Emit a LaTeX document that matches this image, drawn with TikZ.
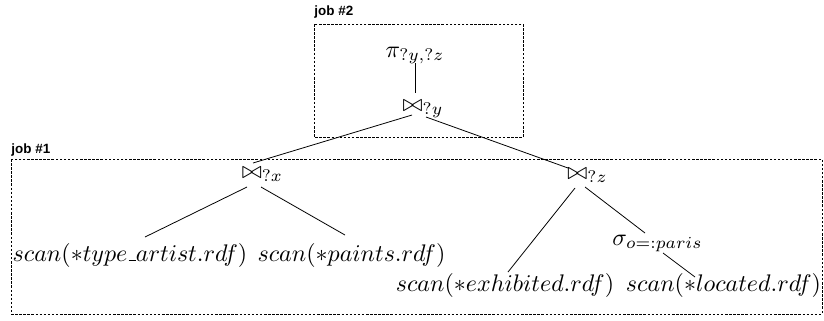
\documentclass[tikz,border=0pt]{standalone}
\usepackage{fontspec}
\newfontfamily\labfont{Liberation Sans}
\usetikzlibrary{calc}
\newcommand{\lowbar}{\mbox{\kern.06em\vbox{\hrule width.3em}}}
\begin{document}
\begin{tikzpicture}[x=0.41667pt,y=-0.41667pt,
  op/.style={inner sep=0pt,anchor=base},
  jobbox/.style={draw,line width=0.3pt,dash pattern=on 1.05pt off 0.65pt},
  joblabel/.style={inner sep=0pt,anchor=base west,font=\labfont\bfseries\fontsize{5.6}{7}\selectfont},
  edge/.style={line width=0.33pt}]
\useasboundingbox (0,0) rectangle (824,320);
% boxes
\draw[jobbox] (314,24) rectangle (523,137);
\draw[jobbox] (11,159) rectangle (822,314);
\node[joblabel] (l2) at (314,15) {job \#2};
\node[joblabel] (l1) at (11,153) {job \#1};
% nodes
\node[op] (pi) at (415,57) {$\pi_{?y,?z}$};
\node[op] (jy) at (423,111) {$\bowtie_{?y}$};
\node[op] (jx) at (262.5,178) {$\bowtie_{?x}$};
\node[op] (jz) at (587.5,179) {$\bowtie_{?z}$};
\node[op] (sg) at (657.5,245) {$\sigma_{o=:paris}$};
\node[op] (s1) at (130,261) {$scan(*type\lowbar artist.rdf)$};
\node[op] (s2) at (351.5,261) {$scan(*paints.rdf)$};
\node[op] (s3) at (505,291) {$scan(*exhibited.rdf)$};
\node[op] (s4) at (723.5,291) {$scan(*located.rdf)$};
% edges
\draw[edge] ($(pi.base)+(0,6)$) -- ($(jy.base)+(-8,-18)$);
\draw[edge] ($(jy.base)+(-11,4)$) -- ($(jx.base)+(-9.5,-15)$);
\draw[edge] ($(jy.base)+(3,6)$) -- ($(jz.base)+(-19.5,-11)$);
\draw[edge] ($(jx.base)+(-15.5,9)$) -- ($(s1.base)+(15,-24)$);
\draw[edge] ($(jx.base)+(-1.5,9)$) -- ($(s2.base)+(-6.5,-26)$);
\draw[edge] ($(jz.base)+(-12.5,9)$) -- ($(s3.base)+(3,-19)$);
\draw[edge] ($(jz.base)+(-2.5,8)$) -- ($(sg.base)+(-12.5,-12)$);
\draw[edge] ($(sg.base)+(5.5,8)$) -- ($(s4.base)+(-28.5,-14)$);
\end{tikzpicture}
\end{document}
